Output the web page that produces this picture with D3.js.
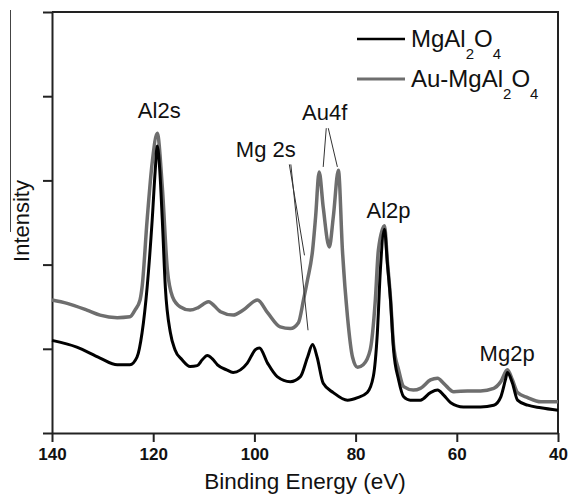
<!DOCTYPE html>
<html>
<head>
<meta charset="utf-8">
<script src="https://cdn.jsdelivr.net/npm/d3@7"></script>
<style>
  body { margin: 0; background: #fff; }
  svg text { font-family: "Liberation Sans", Arial, sans-serif; fill: #111; }
</style>
</head>
<body>
<div id="chart"></div>
<script>
// binding energy (eV) and intensity (a.u.)
var bareEnergy = [140, 135.1, 130.5, 127.1, 124.6, 123.2, 122.2, 121.2, 120.2, 119.6, 119.2, 118.7, 118.2, 117.6, 116.6, 115.7, 114.3, 112.7, 111.3, 110.3, 109.3, 108.3, 107.3, 105.5, 104.2, 101.4, 99.8, 99.0, 97.4, 95.5, 92.9, 90.9, 89.5, 88.5, 87.6, 86.4, 84.4, 81.6, 79.6, 77.7, 76.5, 75.7, 75.1, 74.3, 73.7, 73.1, 72.5, 71.5, 70.5, 69.2, 67.2, 65.2, 63.8, 62.6, 61.2, 58.7, 55.3, 52.7, 51.3, 50.4, 50.0, 49.0, 48.0, 46.0, 43.4, 40];
var bareIntensity = [1.10, 1.02, 0.89, 0.81, 0.81, 0.90, 1.19, 1.73, 2.53, 3.12, 3.41, 3.12, 2.53, 1.73, 1.19, 0.99, 0.87, 0.79, 0.80, 0.87, 0.92, 0.88, 0.81, 0.75, 0.72, 0.83, 0.99, 1.01, 0.83, 0.67, 0.61, 0.67, 0.90, 1.05, 0.90, 0.59, 0.48, 0.39, 0.42, 0.48, 0.67, 1.19, 1.94, 2.42, 2.00, 1.58, 0.99, 0.63, 0.43, 0.39, 0.39, 0.48, 0.51, 0.45, 0.36, 0.31, 0.31, 0.33, 0.43, 0.63, 0.72, 0.59, 0.39, 0.33, 0.30, 0.27];

var auEnergy = [140, 137.0, 133.1, 130.5, 127.1, 124.6, 123.6, 122.6, 122.2, 121.2, 120.2, 119.2, 118.2, 117.2, 116.2, 114.7, 112.7, 111.1, 109.1, 106.7, 104.2, 102.2, 99.4, 97.4, 94.9, 92.9, 91.3, 90.3, 89.5, 88.5, 87.9, 87.2, 86.4, 85.2, 84.4, 83.4, 82.6, 81.6, 80.6, 79.6, 78.5, 77.1, 76.1, 75.5, 74.3, 73.7, 73.1, 72.5, 71.5, 70.5, 68.6, 67.2, 65.2, 63.8, 62.6, 60.6, 57.9, 55.3, 52.7, 51.3, 50.0, 49.0, 48.0, 46.0, 43.4, 40];
var auIntensity = [1.58, 1.54, 1.46, 1.40, 1.37, 1.38, 1.46, 1.58, 1.73, 2.53, 3.21, 3.56, 2.92, 1.94, 1.62, 1.50, 1.46, 1.49, 1.56, 1.44, 1.40, 1.46, 1.58, 1.43, 1.26, 1.24, 1.31, 1.58, 1.82, 2.17, 2.57, 3.10, 2.68, 2.21, 2.57, 3.12, 2.17, 1.38, 0.90, 0.78, 0.81, 0.99, 1.58, 2.17, 2.46, 2.03, 1.60, 1.05, 0.75, 0.55, 0.51, 0.53, 0.63, 0.65, 0.59, 0.49, 0.50, 0.50, 0.53, 0.61, 0.75, 0.63, 0.48, 0.42, 0.37, 0.37];

var xTicks = [140, 120, 100, 80, 60, 40];
var yTicks = [0, 1, 2, 3, 4, 5];

// peak labels: [text, energy, intensity]
var peakLabels = [
  ["Al2s", 118.8, 3.74],
  ["Mg 2s", 97.75, 3.28],
  ["Au4f", 86.1, 3.72],
  ["Al2p", 73.5, 2.55],
  ["Mg2p", 50.05, 0.855]
];
// leader lines: [e1, i1, e2, i2]
var leaders = [
  [93.1, 3.19, 90.1, 2.11],
  [92.8, 3.19, 89.4, 1.22],
  [85.8, 3.62, 86.4, 3.16],
  [85.4, 3.62, 83.6, 3.16]
];

var width = 571, height = 494;
var margin = {top: 12, right: 13, bottom: 61, left: 52};

var svg = d3.select("#chart").append("svg")
    .attr("width", width)
    .attr("height", height);

var x = d3.scaleLinear().domain([140, 40]).range([margin.left, width - margin.right]);
var y = d3.scaleLinear().domain([0, 5]).range([height - margin.bottom, margin.top]);

// scan edge artifact on the left
svg.append("line")
    .attr("x1", 10.5).attr("x2", 10.5)
    .attr("y1", 10).attr("y2", 232)
    .attr("stroke", "#444").attr("stroke-width", 1);

// frame (top + right)
svg.append("path")
    .attr("d", "M" + margin.left + "," + y(5) + "H" + x(40) + "V" + y(0))
    .attr("fill", "none")
    .attr("stroke", "#222")
    .attr("stroke-width", 2);

var xAxis = d3.axisBottom(x).tickValues(xTicks).tickSize(9).tickSizeOuter(0).tickPadding(6);
var yAxis = d3.axisLeft(y).tickValues(yTicks).tickSize(9).tickSizeOuter(0).tickFormat("");

var gx = svg.append("g")
    .attr("transform", "translate(0," + y(0) + ")")
    .call(xAxis);
gx.selectAll("text")
    .style("font-size", "17px")
    .style("font-weight", "bold")
    .attr("fill", "#111");

var gy = svg.append("g")
    .attr("transform", "translate(" + margin.left + ",0)")
    .call(yAxis);

svg.selectAll(".domain, .tick line")
    .attr("stroke", "#222")
    .attr("stroke-width", 2);

// axis titles
svg.append("text")
    .attr("x", (x(140) + x(40)) / 2)
    .attr("y", 489)
    .attr("text-anchor", "middle")
    .style("font-size", "22.5px")
    .text("Binding Energy (eV)");

svg.append("text")
    .attr("transform", "translate(29," + 221 + ") rotate(-90)")
    .attr("text-anchor", "middle")
    .style("font-size", "22px")
    .text("Intensity");

var line = d3.line()
    .x(function(d) { return x(d[0]); })
    .y(function(d) { return y(d[1]); })
    .curve(d3.curveMonotoneX);

var auData = d3.zip(auEnergy, auIntensity);
var bareData = d3.zip(bareEnergy, bareIntensity);

svg.append("path")
    .datum(auData)
    .attr("d", line)
    .attr("fill", "none")
    .attr("stroke", "#6e6e6e")
    .attr("stroke-width", 3.5)
    .attr("stroke-linejoin", "round");

svg.append("path")
    .datum(bareData)
    .attr("d", line)
    .attr("fill", "none")
    .attr("stroke", "#000")
    .attr("stroke-width", 3)
    .attr("stroke-linejoin", "round");

// leader lines
svg.selectAll(".leader")
    .data(leaders)
    .enter().append("line")
    .attr("class", "leader")
    .attr("x1", function(d) { return x(d[0]); })
    .attr("y1", function(d) { return y(d[1]); })
    .attr("x2", function(d) { return x(d[2]); })
    .attr("y2", function(d) { return y(d[3]); })
    .attr("stroke", "#333")
    .attr("stroke-width", 1);

svg.selectAll(".peak")
    .data(peakLabels)
    .enter().append("text")
    .attr("class", "peak")
    .attr("x", function(d) { return x(d[1]); })
    .attr("y", function(d) { return y(d[2]); })
    .attr("text-anchor", "middle")
    .style("font-size", "22px")
    .text(function(d) { return d[0]; });

// legend
var legend = [
  {pre: "MgAl", color: "#000", w: 2.5, ly: 39, ty: 47},
  {pre: "Au-MgAl", color: "#6e6e6e", w: 3, ly: 79, ty: 87}
];
var lg = svg.selectAll(".legend")
    .data(legend)
    .enter().append("g")
    .attr("class", "legend");
lg.append("line")
    .attr("x1", 357).attr("x2", 405)
    .attr("y1", function(d) { return d.ly; })
    .attr("y2", function(d) { return d.ly; })
    .attr("stroke", function(d) { return d.color; })
    .attr("stroke-width", function(d) { return d.w; });
var lt = lg.append("text")
    .attr("x", 411)
    .attr("y", function(d) { return d.ty; })
    .style("font-size", "24px");
lt.append("tspan").text(function(d) { return d.pre; });
lt.append("tspan").attr("dy", 12).style("font-size", "15px").text("2");
lt.append("tspan").attr("dy", -12).text("O");
lt.append("tspan").attr("dy", 12).style("font-size", "15px").text("4");
</script>
</body>
</html>
